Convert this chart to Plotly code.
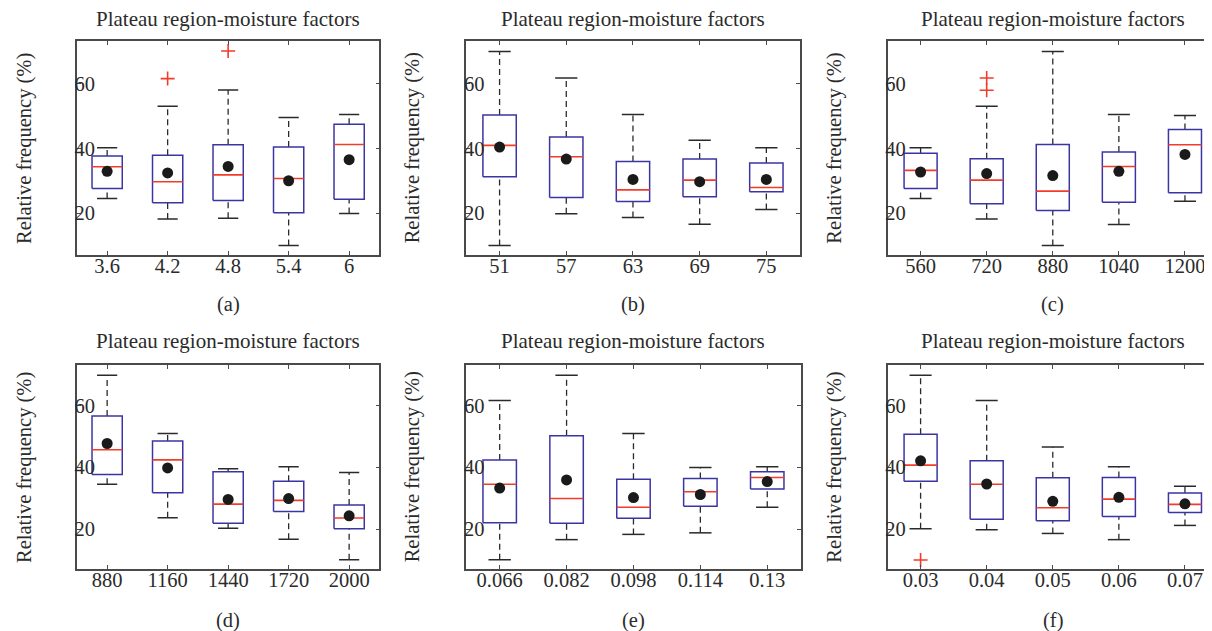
import plotly.graph_objects as go

# ---------------- data ----------------
TITLE = "Plateau region-moisture factors"
YLABEL = "Relative frequency (%)"
PANEL_LABELS = ["(a)", "(b)", "(c)", "(d)", "(e)", "(f)"]
Y_TICKS = [20, 40, 60]

CATS_A = ["3.6", "4.2", "4.8", "5.4", "6"]
LO_A = [24.5, 18.2, 18.4, 10.0, 19.9]
Q1_A = [27.6, 23.2, 23.9, 20.1, 24.3]
MED_A = [34.3, 29.7, 31.8, 30.7, 41.2]
Q3_A = [37.6, 37.9, 41.1, 40.4, 47.4]
HI_A = [40.2, 53.0, 58.0, 49.5, 50.4]
MEAN_A = [32.9, 32.4, 34.4, 30.0, 36.5]
OUT_A = [[], [61.5], [70.0], [], []]

CATS_B = ["51", "57", "63", "69", "75"]
LO_B = [10.0, 19.8, 18.7, 16.6, 21.1]
Q1_B = [31.2, 24.8, 23.6, 25.1, 26.6]
MED_B = [40.9, 37.4, 27.2, 30.2, 27.9]
Q3_B = [50.3, 43.5, 35.9, 36.7, 35.5]
HI_B = [69.9, 61.7, 50.4, 42.5, 40.2]
MEAN_B = [40.4, 36.7, 30.4, 29.7, 30.4]
OUT_B = [[], [], [], [], []]

CATS_C = ["560", "720", "880", "1040", "1200"]
LO_C = [24.5, 18.2, 10.0, 16.5, 23.7]
Q1_C = [27.6, 22.9, 20.8, 23.4, 26.3]
MED_C = [33.2, 30.2, 26.8, 34.4, 41.1]
Q3_C = [38.5, 36.8, 41.2, 38.9, 45.8]
HI_C = [40.2, 53.0, 69.9, 50.4, 50.1]
MEAN_C = [32.7, 32.2, 31.6, 32.9, 38.1]
OUT_C = [[], [61.7, 57.9], [], [], []]

CATS_D = ["880", "1160", "1440", "1720", "2000"]
LO_D = [34.5, 23.7, 20.3, 16.7, 10.1]
Q1_D = [37.7, 31.8, 21.9, 25.7, 20.1]
MED_D = [45.7, 42.4, 28.1, 29.3, 23.6]
Q3_D = [56.6, 48.5, 38.6, 35.5, 27.8]
HI_D = [69.8, 50.9, 39.5, 40.2, 38.3]
MEAN_D = [47.7, 39.8, 29.6, 29.9, 24.3]
OUT_D = [[], [], [], [], []]

CATS_E = ["0.066", "0.082", "0.098", "0.114", "0.13"]
LO_E = [10.1, 16.6, 18.3, 18.8, 27.1]
Q1_E = [22.1, 21.9, 23.5, 27.4, 33.0]
MED_E = [34.5, 29.9, 27.1, 32.1, 36.7]
Q3_E = [42.4, 50.2, 36.1, 36.4, 38.6]
HI_E = [61.6, 69.8, 50.9, 39.9, 40.2]
MEAN_E = [33.3, 35.9, 30.2, 31.2, 35.4]
OUT_E = [[], [], [], [], []]

CATS_F = ["0.03", "0.04", "0.05", "0.06", "0.07"]
LO_F = [20.1, 19.8, 18.6, 16.6, 21.2]
Q1_F = [35.5, 23.2, 22.7, 24.1, 25.4]
MED_F = [40.7, 34.5, 26.9, 29.7, 28.0]
Q3_F = [50.7, 42.1, 36.6, 36.7, 31.7]
HI_F = [69.8, 61.6, 46.6, 40.2, 33.9]
MEAN_F = [42.1, 34.6, 29.0, 30.3, 28.2]
OUT_F = [[10.0], [], [], [], []]

# ---------------- styling / layout ----------------
W, H = 1212, 631
FONT = "Liberation Serif"
TEXT_COLOR = "#2b2b2b"
BOX_COLOR = "#3b35a3"
MED_COLOR = "#f23c2a"
WHISK_COLOR = "#2a2a2a"
AXIS_COLOR = "#4a4a4a"
BOX_HALF = 0.25
CAP_HALF = 0.167

# pixel boxes of the plot areas: (left, right, top, bottom)
PIX = [
    (69, 372, 33, 247), (459, 793, 33, 247), (881, 1212, 33, 247),
    (69, 372, 357, 561), (459, 794, 357, 561), (881, 1212, 357, 561),
]
YLABEL_X = [16, 405, 827]
TITLE_OFF = [22, 24]      # px above plot top, per row
LABEL_OFF = [49, 51]      # px below plot bottom, per row

panels = [
    (CATS_A, LO_A, Q1_A, MED_A, Q3_A, HI_A, MEAN_A, OUT_A),
    (CATS_B, LO_B, Q1_B, MED_B, Q3_B, HI_B, MEAN_B, OUT_B),
    (CATS_C, LO_C, Q1_C, MED_C, Q3_C, HI_C, MEAN_C, OUT_C),
    (CATS_D, LO_D, Q1_D, MED_D, Q3_D, HI_D, MEAN_D, OUT_D),
    (CATS_E, LO_E, Q1_E, MED_E, Q3_E, HI_E, MEAN_E, OUT_E),
    (CATS_F, LO_F, Q1_F, MED_F, Q3_F, HI_F, MEAN_F, OUT_F),
]

fig = go.Figure()
annotations = []
layout_axes = {}

for i, (cats, lo, q1, med, q3, hi, mean, outs) in enumerate(panels):
    n = i + 1
    row = i // 3
    xa = "x" if n == 1 else f"x{n}"
    ya = "y" if n == 1 else f"y{n}"
    pos = list(range(1, len(cats) + 1))

    wx, wy, cx, cy, bx, by, mx, my, ox, oy = [], [], [], [], [], [], [], [], [], []
    for p, l, a, m, b, h, outl in zip(pos, lo, q1, med, q3, hi, outs):
        wx += [p, p, None, p, p, None]
        wy += [b, h, None, l, a, None]
        cx += [p - CAP_HALF, p + CAP_HALF, None, p - CAP_HALF, p + CAP_HALF, None]
        cy += [h, h, None, l, l, None]
        bx += [p - BOX_HALF, p + BOX_HALF, p + BOX_HALF, p - BOX_HALF, p - BOX_HALF, None]
        by += [a, a, b, b, a, None]
        mx += [p - BOX_HALF, p + BOX_HALF, None]
        my += [m, m, None]
        for o in outl:
            ox.append(p)
            oy.append(o)

    common = dict(xaxis=xa, yaxis=ya, showlegend=False, hoverinfo="skip")
    fig.add_trace(go.Scatter(x=wx, y=wy, mode="lines",
                             line=dict(color=WHISK_COLOR, width=1.3, dash="6px,4px"), **common))
    fig.add_trace(go.Scatter(x=cx, y=cy, mode="lines",
                             line=dict(color=WHISK_COLOR, width=1.5), **common))
    fig.add_trace(go.Scatter(x=bx, y=by, mode="lines",
                             line=dict(color=BOX_COLOR, width=1.5), **common))
    fig.add_trace(go.Scatter(x=mx, y=my, mode="lines",
                             line=dict(color=MED_COLOR, width=1.6), **common))
    fig.add_trace(go.Scatter(x=pos, y=mean, mode="markers",
                             marker=dict(color="#1a1a1a", size=11), **common))
    if ox:
        fig.add_trace(go.Scatter(x=ox, y=oy, mode="markers",
                                 marker=dict(symbol="cross-thin", size=10,
                                             line=dict(color=MED_COLOR, width=1.6)),
                                 **common))

    L, R, T, B = PIX[i]
    xdom = [L / W, min(R / W, 1.0)]
    ydom = [1 - B / H, 1 - T / H]
    axis_common = dict(showline=True, linecolor=AXIS_COLOR, linewidth=1.5,
                       mirror="ticks", ticks="inside", ticklen=4, tickwidth=1,
                       tickcolor=AXIS_COLOR, showgrid=False, zeroline=False,
                       tickfont=dict(family=FONT, size=20.5, color=TEXT_COLOR))
    layout_axes["xaxis" if n == 1 else f"xaxis{n}"] = dict(
        domain=xdom, anchor=ya, range=[0.5, 5.5], tickmode="array",
        tickvals=pos, ticktext=cats, ticklabelstandoff=-8, **axis_common)
    layout_axes["yaxis" if n == 1 else f"yaxis{n}"] = dict(
        domain=ydom, anchor=xa, range=[7.1, 73.1], tickmode="array",
        tickvals=Y_TICKS, ticktext=[str(t) for t in Y_TICKS],
        ticklabelstandoff=-24, **axis_common)

    cxp = (L + min(R, W)) / 2 / W
    annotations.append(dict(text=TITLE, x=cxp, y=1 - (T - TITLE_OFF[row]) / H,
                            xref="paper", yref="paper",
                            xanchor="center", yanchor="middle", showarrow=False,
                            font=dict(family=FONT, size=21, color=TEXT_COLOR)))
    annotations.append(dict(text=PANEL_LABELS[i], x=(L + R) / 2 / W,
                            y=1 - (B + LABEL_OFF[row]) / H, xref="paper", yref="paper",
                            xanchor="center", yanchor="middle", showarrow=False,
                            font=dict(family=FONT, size=20.5, color=TEXT_COLOR)))
    annotations.append(dict(text=YLABEL, x=YLABEL_X[i % 3] / W, y=1 - (T + B) / 2 / H,
                            xref="paper", yref="paper", textangle=-90,
                            xanchor="center", yanchor="middle", showarrow=False,
                            font=dict(family=FONT, size=20.5, color=TEXT_COLOR)))

fig.update_layout(width=W, height=H, margin=dict(l=0, r=0, t=0, b=0),
                  plot_bgcolor="white", paper_bgcolor="white",
                  annotations=annotations, **layout_axes)

fig.write_html("out.html")
